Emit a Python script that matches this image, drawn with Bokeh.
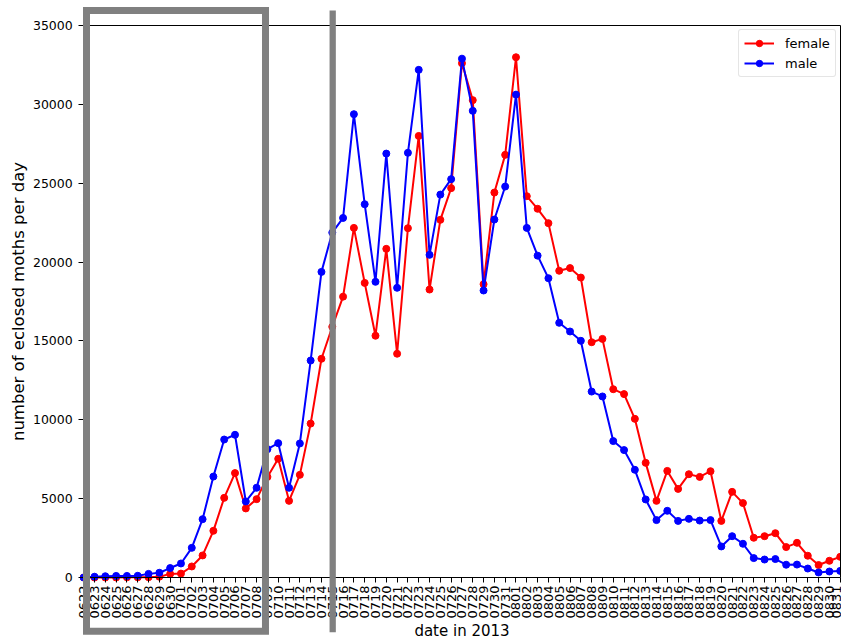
import math
from bokeh.plotting import figure
from bokeh.models import (FixedTicker, BoxAnnotation, Legend, LegendItem,
                          ColumnDataSource, Range1d, LinearAxis)
from bokeh.embed import file_html
from bokeh.resources import INLINE

dates = ["0622", "0623", "0624", "0625", "0626", "0627", "0628", "0629", "0630",
         "0701", "0702", "0703", "0704", "0705", "0706", "0707", "0708", "0709", "0710",
         "0711", "0712", "0713", "0714", "0715", "0716", "0717", "0718", "0719", "0720",
         "0721", "0722", "0723", "0724", "0725", "0726", "0727", "0728", "0729", "0730",
         "0731",
         "0801", "0802", "0803", "0804", "0805", "0806", "0807", "0808", "0809", "0810",
         "0811", "0812", "0813", "0814", "0815", "0816", "0817", "0818", "0819", "0820",
         "0821", "0822", "0823", "0824", "0825", "0826", "0827", "0828", "0829", "0830",
         "0831"]

female = [0, 0, 0, 0, 10, 10, 20, 50, 230,
          250, 700, 1400, 2960, 5050, 6620, 4380, 4970, 6380, 7530,
          4860, 6510, 9760, 13870, 15900, 17810, 22170, 18680, 15330, 20840,
          14190, 22150, 28000, 18260, 22680, 24690, 32610, 30270, 18600, 24410,
          26800,
          32990, 24180, 23380, 22470, 19450, 19620, 19020, 14920, 15130, 11940,
          11630, 10060, 7270, 4860, 6760, 5620, 6550, 6380, 6740, 3590,
          5430, 4720, 2520, 2620, 2810, 1930, 2200, 1380, 790, 1060,
          1310]

male = [0, 50, 80, 100, 100, 110, 230, 300, 600,
        890, 1880, 3700, 6400, 8750, 9050, 4820, 5690, 8140, 8520,
        5690, 8500, 13760, 19380, 21870, 22800, 29380, 23670, 18750, 26880,
        18370, 26930, 32190, 20460, 24280, 25260, 32900, 29590, 18200, 22700,
        24790,
        30620, 22170, 20410, 18980, 16150, 15600, 15010, 11790, 11480, 8650,
        8080, 6830, 4950, 3640, 4230, 3590, 3720, 3610, 3640, 1970,
        2620, 2140, 1230, 1140, 1170, 810, 820, 570, 320, 380,
        420]

y_ticks = [0, 5000, 10000, 15000, 20000, 25000, 30000, 35000]
y_max = 35000

idx = list(range(len(dates)))
x_last = len(dates) - 1
src = ColumnDataSource(dict(x=idx, f=female, m=male))

FONT = "DejaVu Sans"

# the frame spans the whole canvas; the axes are pinned at the data edges
p = figure(width=841, height=639, output_backend="svg", toolbar_location=None,
           title=None, x_range=Range1d(-7.699, 70.12), y_range=Range1d(-3931, 36588),
           min_border=0)
p.background_fill_color = "white"
p.border_fill_color = "white"
p.outline_line_color = None
p.grid.visible = False

lf = p.line("x", "f", source=src, line_color="#ff0000", line_width=2)
sf = p.scatter("x", "f", source=src, size=7, fill_color="#ff0000", line_color="#ff0000")
lm = p.line("x", "m", source=src, line_color="#0000ff", line_width=2)
sm = p.scatter("x", "m", source=src, size=7, fill_color="#0000ff", line_color="#0000ff")

# x axis
xa = p.xaxis[0]
xa.fixed_location = 0
xa.bounds = (0, x_last)
xa.ticker = FixedTicker(ticks=idx)
xa.major_label_overrides = {i: d for i, d in enumerate(dates)}
xa.major_label_orientation = math.pi / 2
xa.major_label_text_font = FONT
xa.major_label_text_font_size = "13px"
xa.major_label_text_color = "black"
xa.major_label_standoff = 3
xa.major_tick_out = 5
xa.major_tick_in = 0
xa.minor_tick_out = 0
xa.minor_tick_in = 0
xa.axis_line_color = "black"
xa.major_tick_line_color = "black"
xa.axis_label = "date in 2013"
xa.axis_label_text_font = FONT
xa.axis_label_text_font_size = "15px"
xa.axis_label_text_font_style = "normal"
xa.axis_label_text_color = "black"
xa.axis_label_standoff = 0

ya = p.yaxis[0]
ya.fixed_location = 0
ya.bounds = (0, y_max)
ya.ticker = FixedTicker(ticks=y_ticks)
ya.major_label_text_font = FONT
ya.major_label_text_font_size = "12.5px"
ya.major_label_text_color = "black"
ya.major_label_standoff = 6
ya.major_tick_out = 5
ya.major_tick_in = 0
ya.minor_tick_out = 0
ya.minor_tick_in = 0
ya.axis_line_color = "black"
ya.major_tick_line_color = "black"
ya.axis_label = "number of eclosed moths per day"
ya.axis_label_text_font = FONT
ya.axis_label_text_font_size = "16.5px"
ya.axis_label_text_font_style = "normal"
ya.axis_label_text_color = "black"
ya.axis_label_standoff = 2

# top and right spines
top = LinearAxis(fixed_location=y_max, bounds=(0, x_last), ticker=FixedTicker(ticks=[]),
                 major_tick_out=0, minor_tick_out=0, axis_line_color="black")
p.add_layout(top, "above")
right = LinearAxis(fixed_location=x_last, bounds=(0, y_max), ticker=FixedTicker(ticks=[]),
                   major_tick_out=0, minor_tick_out=0, axis_line_color="black")
p.add_layout(right, "right")

legend = Legend(items=[LegendItem(label="female", renderers=[lf, sf]),
                       LegendItem(label="male", renderers=[lm, sm])],
                location=(738, 562))
legend.label_text_font = FONT
legend.label_text_font_size = "13px"
legend.label_text_color = "black"
legend.border_line_color = "#cccccc"
legend.border_line_width = 1
legend.border_radius = 3
legend.background_fill_alpha = 0.8
legend.glyph_width = 30
legend.glyph_height = 16
legend.label_height = 16
legend.spacing = 4
legend.padding = 5
legend.label_standoff = 11
legend.margin = 0
p.add_layout(legend)

# gray highlight annotations drawn over the chart
rect = BoxAnnotation(left=0.26, right=16.82, top=35952, bottom=-3405,
                     fill_alpha=0, line_color="#808080", line_width=7, line_alpha=1,
                     line_join="miter")
p.add_layout(rect)
vline = BoxAnnotation(left=22.75, right=23.33, top=35952, bottom=-3468,
                      fill_color="#808080", fill_alpha=1, line_alpha=0)
p.add_layout(vline)

open("out.html", "w").write(file_html(p, INLINE))
